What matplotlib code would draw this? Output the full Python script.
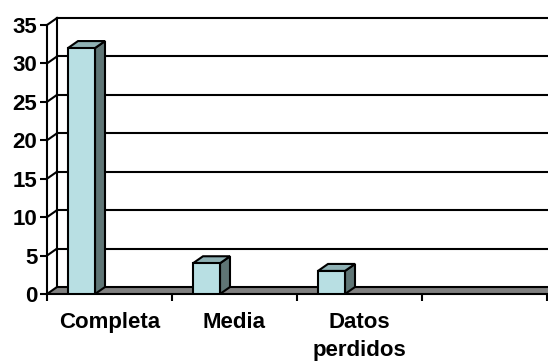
import matplotlib
matplotlib.use("Agg")
import matplotlib.pyplot as plt
from matplotlib.patches import Polygon

plt.rcParams['font.family'] = ['Liberation Sans', 'DejaVu Sans']

categories = ['Completa', 'Media', 'Datos\nperdidos', '']
values = [32, 4, 3]
y_ticks = [0, 5, 10, 15, 20, 25, 30, 35]

FRONT = '#B8DFE3'
TOP = '#8FB1B4'
SIDE = '#5F7575'
FLOOR = '#808080'

# depth offset of the pseudo-3d walls (x in category units, y in data units)
dx, dy = 0.08, 0.91


def draw_chart():
    fig = plt.figure(figsize=(5.48, 3.62), dpi=100)
    ax = fig.add_axes([47 / 548, 68 / 362, 500 / 548, 269 / 362])
    ax.set_xlim(0, 4)
    ax.set_ylim(0, 35)
    for s in ax.spines.values():
        s.set_visible(False)

    # back wall + side wall grid
    for v in y_ticks[1:]:
        ax.plot([dx, 4.2], [v + dy, v + dy], color='black', lw=1.5, zorder=1, clip_on=False)
        ax.plot([0, dx], [v, v + dy], color='black', lw=1.5, zorder=1, clip_on=False)
    ax.plot([dx, dx], [dy, 35 + dy], color='black', lw=1.5, zorder=1, clip_on=False)
    ax.plot([0, 0], [0, 35], color='black', lw=1.5, zorder=5, clip_on=False)

    # floor
    floor = Polygon([(0, 0), (4.2, 0), (4.2 + dx, dy), (dx, dy)], closed=True,
                    facecolor=FLOOR, edgecolor='black', lw=1.5, zorder=2, clip_on=False)
    ax.add_patch(floor)

    # bars: front face from ax.bar, then side and top faces
    xs = [i + 0.168 for i in range(len(values))]
    bars = ax.bar(xs, values, width=0.216, align='edge', color=FRONT,
                  edgecolor='black', lw=1.5, zorder=4)
    for r in bars:
        x0 = r.get_x()
        x1 = x0 + r.get_width()
        h = r.get_height()
        side = Polygon([(x1, 0), (x1 + dx, dy), (x1 + dx, h + dy), (x1, h)], closed=True,
                       facecolor=SIDE, edgecolor='black', lw=1.5, zorder=3, clip_on=False)
        top = Polygon([(x0, h), (x1, h), (x1 + dx, h + dy), (x0 + dx, h + dy)], closed=True,
                      facecolor=TOP, edgecolor='black', lw=1.5, zorder=3, clip_on=False)
        ax.add_patch(side)
        ax.add_patch(top)

    # axes ticks and labels
    ax.set_yticks(y_ticks)
    ax.set_yticklabels([str(v) for v in y_ticks], fontsize=16, fontweight='bold')
    ax.tick_params(axis='y', length=5, width=1.5, pad=2)

    ax.set_xticks([0, 1, 2, 3, 4], minor=True)
    ax.tick_params(axis='x', which='minor', length=5, width=1.5, direction='out')
    ax.set_xticks([0.5, 1.5, 2.5, 3.5])
    ax.set_xticklabels(categories, fontsize=16, fontweight='bold', linespacing=1.45)
    ax.tick_params(axis='x', which='major', length=0, pad=13)

    fig.savefig('out.png', dpi=100)


if __name__ == "__main__":
    draw_chart()
